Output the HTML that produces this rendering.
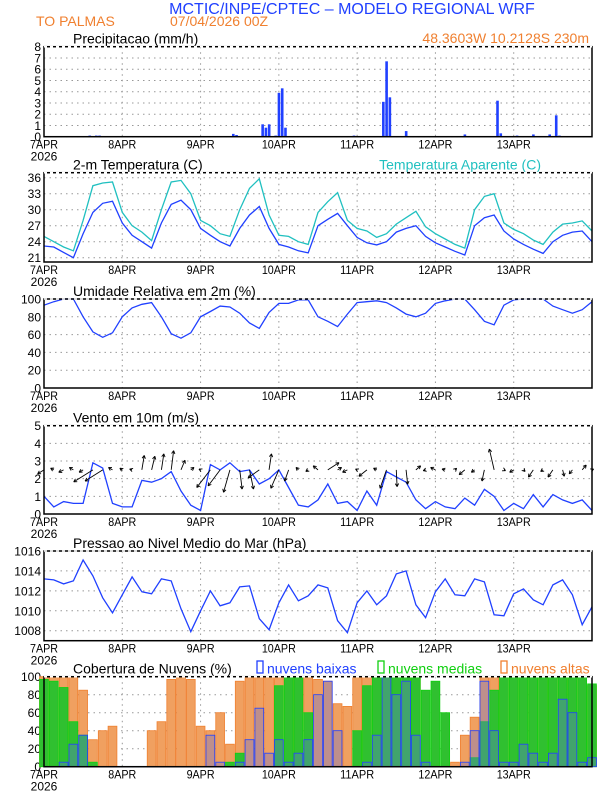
<!DOCTYPE html>
<html><head><meta charset="utf-8"><style>
html,body{margin:0;padding:0;background:#fff}
svg{display:block;font-family:"Liberation Sans",sans-serif}
</style></head><body>
<svg id="c" width="612" height="792" viewBox="0 0 612 792">
<text x="352" y="14" text-anchor="middle" font-size="16" fill="#2040ff">MCTIC/INPE/CPTEC – MODELO REGIONAL WRF</text>
<text x="36" y="26" font-size="14" fill="#f08030">TO PALMAS</text>
<text x="170" y="26" font-size="14" fill="#f08030">07/04/2026 00Z</text>
<text x="589" y="43" text-anchor="end" font-size="14" fill="#f08030">48.3603W 10.2128S 230m</text>
</svg>
<script>
const hours=[0,3,6,9,12,15,18,21,24,27,30,33,36,39,42,45,48,51,54,57,60,63,66,69,72,75,78,81,84,87,90,93,96,99,102,105,108,111,114,117,120,123,126,129,132,135,138,141,144,147,150,153,156,159,162,165,168];
const dayLabels=["7APR","8APR","9APR","10APR","11APR","12APR","13APR"];
const precipHours=[14,16,17,58,59,67,68,69,71,72,73,74,95,104,105,106,111,129,139,140,145,150,155,157,158];
const precipValues=[0.1,0.1,0.1,0.25,0.15,1.1,0.8,1.1,0.1,3.9,4.3,0.8,0.1,3.1,6.7,3.5,0.5,0.2,3.2,0.3,0.1,0.2,0.2,1.9,0.1];
const tempValues=[23.2,23.0,22.0,21.0,25.5,29.5,31.2,31.6,27.5,25.2,24.0,22.8,27.5,31.0,31.8,30.0,26.5,25.2,24.0,23.2,26.5,29.0,30.6,26.5,23.5,23.0,22.3,21.9,27.0,28.2,29.3,27.0,24.8,23.8,23.4,24.0,25.8,26.5,27.0,25.0,23.8,23.0,22.2,21.5,27.0,28.5,29.0,26.0,24.5,23.5,22.6,21.8,24.0,25.2,25.8,26.0,24.0];
const apparentValues=[25.0,24.0,23.0,22.3,28.0,34.5,35.0,35.2,29.5,27.0,25.8,24.2,30.0,35.2,35.5,33.0,28.0,27.0,25.5,25.0,30.0,34.0,35.8,29.0,25.2,25.0,24.0,23.5,29.5,31.5,33.2,28.0,26.5,26.0,24.8,25.5,27.3,28.5,29.7,26.8,25.5,24.5,23.5,22.8,30.0,32.5,33.0,27.5,26.3,25.5,24.3,23.5,25.8,27.3,27.5,27.9,26.0];
const rhValues=[93,97,100,100,80,63,57,62,80,90,94,96,80,61,56,62,80,86,92,91,84,73,67,85,95,95,99,99,80,75,69,83,96,97,98,96,90,83,80,84,95,98,100,100,88,75,71,93,99,100,100,100,92,88,84,88,97];
const windSpeed=[1.0,0.4,0.7,0.6,0.6,2.9,2.6,0.6,0.4,0.4,1.9,1.8,2.0,2.4,1.3,0.5,0.2,2.8,2.5,2.9,2.4,2.5,1.7,2.0,2.5,1.5,0.5,0.4,0.8,1.7,0.6,0.7,0.2,1.3,0.5,2.4,2.1,1.8,0.8,0.3,0.7,0.4,0.3,0.9,0.5,1.4,1.0,0.2,0.6,0.3,1.1,0.4,1.1,0.8,0.6,0.8,0.2];
const windU=[-0.8,-0.4,-0.6,-0.5,-0.5,-2.4,-2.2,-0.5,-0.3,-0.3,0.3,0.4,0.3,0.3,0.5,0.4,-0.2,-1.7,-1.5,-0.8,0.3,0.5,-1.4,0.3,-1.0,-0.5,-0.3,-0.3,-0.6,1.4,0.5,-0.6,-0.2,-1.0,-0.4,-0.8,0.1,0.2,0.6,-0.3,-0.6,-0.4,0.2,-0.7,-0.4,-0.3,-0.6,0.2,-0.5,0.2,-0.6,-0.3,-0.6,0.2,-0.4,0.5,0.2];
const windV=[-0.5,0.2,-0.3,0.3,-0.3,-1.5,-1.4,0.3,0.2,0.1,1.8,1.7,2.0,2.4,1.2,0.3,0.1,-2.2,-2.0,-2.8,-2.4,-2.4,-1.0,2.0,-2.3,-1.4,0.3,-0.2,0.5,0.9,0.3,-0.3,0.1,-0.8,0.2,-2.3,-2.1,-1.8,0.5,-0.1,0.3,0.1,0.2,-0.6,-0.3,-1.4,2.6,-0.1,-0.3,-0.2,-0.9,-0.2,-0.9,-0.8,-0.5,0.6,0.1];
const pressureValues=[1013.2,1013.1,1012.7,1013.0,1015.1,1013.5,1011.3,1009.8,1011.6,1013.4,1011.9,1011.7,1013.2,1013.0,1010.2,1007.9,1010.0,1012.0,1010.5,1010.8,1012.4,1012.5,1009.2,1008.1,1010.8,1012.6,1011.0,1011.5,1012.6,1012.3,1009.0,1007.8,1010.8,1012.0,1010.6,1011.5,1013.7,1014.0,1010.6,1009.3,1011.9,1013.2,1011.6,1011.5,1013.2,1012.9,1009.6,1009.5,1011.7,1012.2,1011.1,1010.6,1012.6,1013.1,1011.6,1008.6,1010.4];
const cloudHigh=[100,100,100,100,85,30,40,45,0,0,0,40,50,97,100,97,45,40,60,25,95,100,100,100,100,100,100,100,97,95,70,67,100,100,100,100,100,100,100,0,0,0,5,35,55,100,100,100,100,100,100,100,100,100,100,100,90];
const cloudMid=[97,95,88,50,35,5,0,0,0,0,0,0,0,0,0,0,0,0,0,5,15,0,0,0,90,100,100,60,0,0,0,0,40,90,100,100,100,100,100,85,95,60,0,0,10,50,85,100,100,100,100,100,100,100,100,100,92];
const cloudLow=[0,0,5,25,35,0,0,0,0,0,0,0,0,0,0,0,0,35,5,0,5,30,65,15,30,5,15,30,80,95,40,0,0,5,35,100,80,95,35,5,0,0,0,5,40,95,40,5,5,25,15,5,15,75,60,5,10];
</script>
<script>
const svg=document.getElementById('c');
const NS='http://www.w3.org/2000/svg';
const X0=44,X1=592;
function xh(h){return X0+h*(X1-X0)/168;}
function mk(tag,at,parent){const e=document.createElementNS(NS,tag);for(const k in at)e.setAttribute(k,at[k]);(parent||svg).appendChild(e);return e;}
function lin(v0,p0,v1,p1){return v=>p0+(v-v0)*(p1-p0)/(v1-v0);}
const panels=[
 {name:'precip',top:46.7,bot:136.7,y:lin(0,136.7,8,46.7),ticks:[0,1,2,3,4,5,6,7,8],title:'Precipitacao (mm/h)'},
 {name:'temperature',top:172.7,bot:262,y:lin(21,257.7,36,177.7),ticks:[21,24,27,30,33,36],title:'2-m Temperatura (C)'},
 {name:'humidity',top:299,bot:388,y:lin(0,388,100,299),ticks:[0,20,40,60,80,100],title:'Umidade Relativa em 2m (%)'},
 {name:'wind',top:425.7,bot:514,y:lin(0,514,5,425.7),ticks:[0,1,2,3,4,5],title:'Vento em 10m (m/s)'},
 {name:'pressure',top:551,bot:640.7,y:lin(1008,630.7,1016,551),ticks:[1008,1010,1012,1014,1016],title:'Pressao ao Nivel Medio do Mar (hPa)'},
 {name:'clouds',top:676.7,bot:766.7,y:lin(0,766.7,100,676.7),ticks:[0,20,40,60,80,100],title:'Cobertura de Nuvens (%)'}
];
panels.forEach(p=>{
 const g=mk('g',{});
 
 
 p.g=g;
 p.ticks.forEach(t=>{
  const yy=p.y(t);
  const gl=mk('line',{x1:X0,x2:X1,y1:yy,y2:yy,stroke:'#999','stroke-dasharray':'1.5 4','stroke-width':1},g);
  
  
  const tl=mk('text',{x:41,y:yy+4.5,'text-anchor':'end','font-size':12},g);
  tl.textContent=t;
  
  
 });
 dayLabels.forEach((d,i)=>{
  const xx=xh(i*24);
  if(i>0){const vl=mk('line',{x1:xx,x2:xx,y1:p.top,y2:p.bot,stroke:'#999','stroke-dasharray':'1.5 4'},g);
  
  }
  const xl=mk('text',{x:xx,y:p.bot+12,'text-anchor':'middle','font-size':12,'textLength':i>2?34:28,'lengthAdjust':'spacingAndGlyphs'},g);
  xl.textContent=d;
  
  
 });
 const yr=mk('text',{x:X0,y:p.bot+24,'text-anchor':'middle','font-size':12},g);
 yr.textContent='2026';
 
 
 const tt=mk('text',{x:73,y:p.top-3,'font-size':14},g);
 tt.textContent=p.title;
 
 
});
// precip bars
const P=panels[0];
precipHours.forEach((h,i)=>{
 const r=mk('rect',{x:xh(h)-1.2,width:2.6,y:P.y(precipValues[i]),height:P.y(0)-P.y(precipValues[i]),fill:'#2040ff'},P.g);
 
 
});
function line(p,vals,col,name){
 const pts=hours.map((h,i)=>xh(h).toFixed(1)+','+p.y(vals[i]).toFixed(1)).join(' ');
 const l=mk('polyline',{points:pts,fill:'none',stroke:col,'stroke-width':1.3},p.g);
 
 
}
line(panels[1],apparentValues,'#20c0c0','apparent-temperature-line');
line(panels[1],tempValues,'#2040ff','temperature-line');
const at=mk('text',{x:541,y:169.7,'text-anchor':'end','font-size':14,fill:'#20c0c0'});
at.textContent='Temperatura Aparente (C)';


line(panels[2],rhValues,'#2040ff','humidity-line');
// wind
const W=panels[3];
line(W,windSpeed,'#2040ff','wind-speed-line');
const k=8, by=W.y(2.5);
hours.forEach((h,i)=>{
 const x0=xh(h),x1=x0+windU[i]*k,y1=by-windV[i]*k;
 const a=mk('g',{},W.g);
 
 
 mk('line',{x1:x0,y1:by,x2:x1,y2:y1,stroke:'#000','stroke-width':0.9},a);
 const ang=Math.atan2(y1-by,x1-x0);
 [0.5,-0.5].forEach(d=>{mk('line',{x1:x1,y1:y1,x2:x1-3.5*Math.cos(ang+d),y2:y1-3.5*Math.sin(ang+d),stroke:'#000','stroke-width':0.9},a);});
});
line(panels[4],pressureValues,'#2040ff','pressure-line');
// clouds
const C=panels[5];
function bars(vals,fill,stroke,name,op){
 hours.forEach((h,i)=>{
  if(vals[i]<=0)return;
  const r=mk('rect',{x:xh(h)-4.4,width:8.8,y:C.y(vals[i]),height:C.y(0)-C.y(vals[i]),fill:fill,'fill-opacity':op,stroke:stroke,'stroke-width':0.8},C.g);
  
  
 });
}
bars(cloudHigh,'#f0a060','#f08030','cloud-high-bar',1);
bars(cloudMid,'#30c030','#10d010','cloud-mid-bar',1);
bars(cloudLow,'#6070e0','#2040ff','cloud-low-bar',0.35);
const zl=mk('line',{x1:X0,x2:X1,y1:C.y(0),y2:C.y(0),stroke:'#2040ff','stroke-width':1.2},C.g);


[['nuvens baixas','#2040ff',257],['nuvens medias','#10d010',378],['nuvens altas','#f08030',501]].forEach(l=>{
 const g=mk('g',{});
 
 
 mk('rect',{x:l[2],y:661,width:6,height:12,fill:'none',stroke:l[1],'stroke-width':1.3},g);
 const t=mk('text',{x:l[2]+10,y:673.5,'font-size':14,fill:l[1]},g);
 t.textContent=l[0];
});
// borders on top
panels.forEach(p=>{
 const b=mk('rect',{x:X0,y:p.top,width:X1-X0,height:p.bot-p.top,fill:'none',stroke:'#000','stroke-width':1.5});
 
 
 mk('line',{x1:X0,x2:X1,y1:p.top,y2:p.top,stroke:'#fff','stroke-width':1.6,'stroke-dasharray':'3 3'});
});
</script>
</body></html>
